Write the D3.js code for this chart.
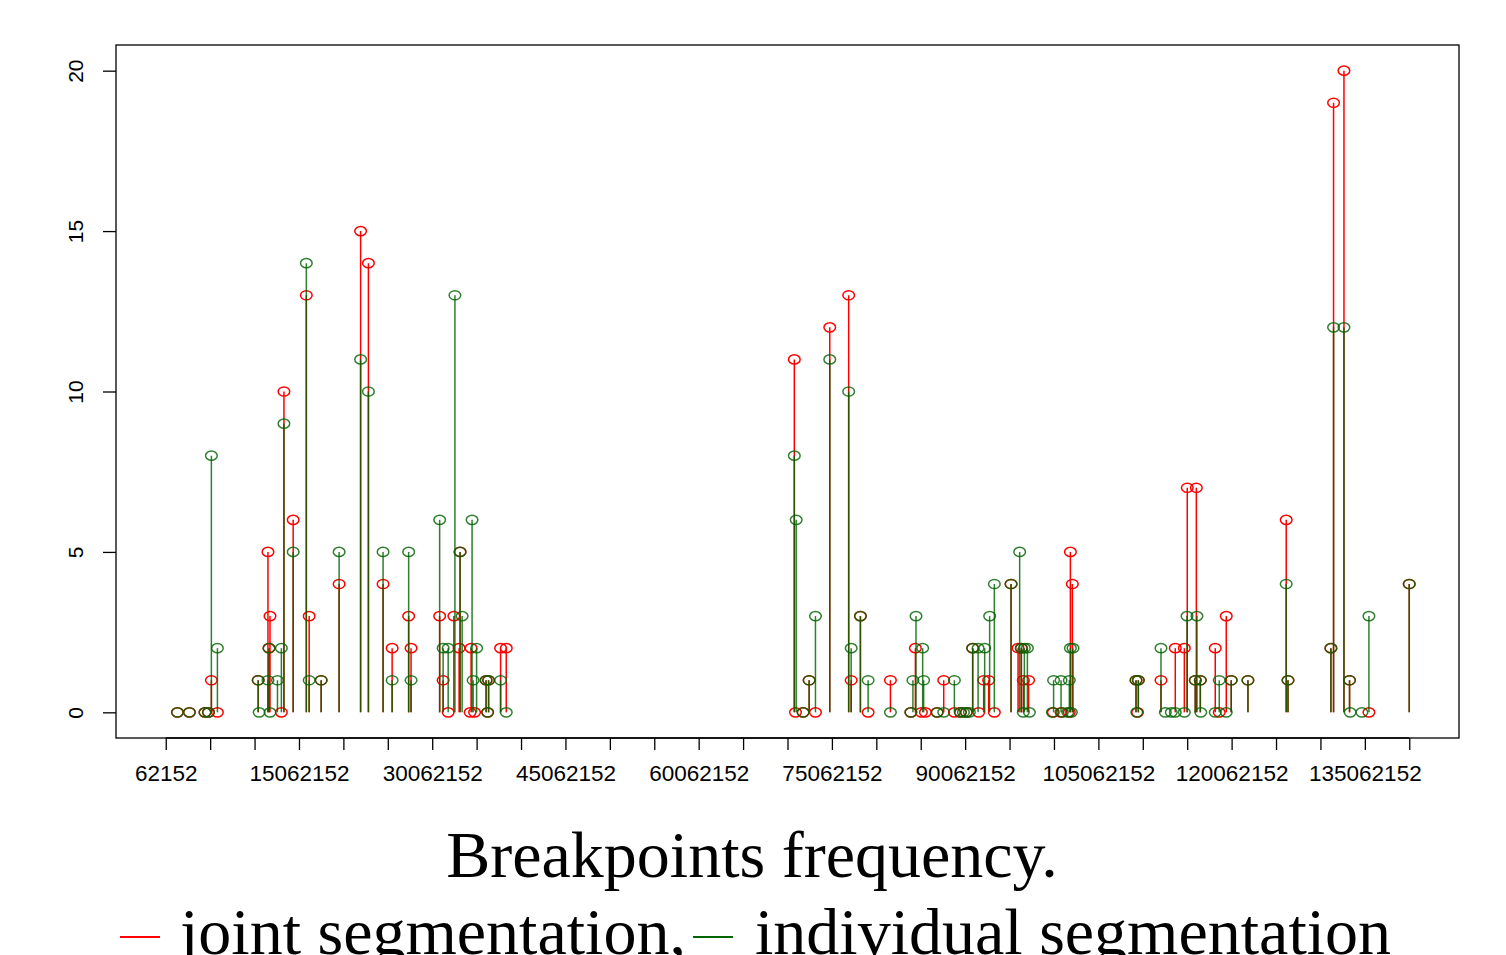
<!DOCTYPE html>
<html lang="en">
<head>
    <script src="https://d3js.org/d3.v7.min.js"></script>
    <style>
        body { margin: 0; background: #fff; }
    </style>
</head>
<body>
    <svg width="1506" height="955"></svg>
    <script>
        // breakpoint positions (Mb) and frequencies
        const jointPos = [1.38, 2.73, 4.48, 4.87, 5.20, 5.88, 10.47, 11.57, 11.69, 11.80, 13.08, 13.37, 14.41, 15.89, 16.21, 17.56, 19.58, 22.00, 22.88, 24.53, 25.55, 27.41, 27.68, 30.90, 31.29, 31.86, 32.50, 33.09, 33.20, 34.33, 34.44, 34.83, 36.13, 36.30, 36.41, 37.76, 38.40,
            70.83, 70.96, 71.82, 72.50, 73.21, 74.82, 76.95, 77.23, 78.27, 79.14, 81.65, 83.95, 84.46, 85.14, 85.59, 86.91, 87.65, 88.85, 89.53, 90.20, 90.91, 91.59, 92.15, 92.71, 93.35, 95.23, 96.02, 96.39, 96.61, 97.21, 99.99, 100.86, 101.79, 101.91, 102.13,
            109.30, 109.47, 109.56, 112.11, 113.72, 114.74, 115.07, 115.97, 116.09, 116.54, 118.22, 118.67, 119.46, 120.02, 121.90, 126.21, 126.41, 131.24, 131.54, 132.71, 133.34, 135.52, 140.06];
        const jointFreq = [0, 0, 0, 0, 1, 0, 1, 5, 2, 3, 0, 10, 6, 13, 3, 1, 4, 15, 14, 4, 2, 3, 2, 3, 1, 0, 3, 2, 5, 0, 2, 0, 1, 0, 1, 2, 2,
            11, 0, 0, 1, 0, 12, 13, 1, 3, 0, 1, 0, 2, 0, 0, 0, 1, 0, 0, 0, 2, 0, 1, 1, 0, 4, 2, 2, 1, 1, 0, 0, 0, 5, 4,
            1, 0, 1, 1, 2, 2, 7, 1, 7, 1, 2, 0, 3, 1, 1, 6, 1, 2, 19, 20, 1, 0, 4];

        const indivPos = [1.38, 2.73, 4.48, 4.87, 5.20, 5.88, 10.47, 10.58, 11.57, 11.69, 11.80, 12.64, 13.08, 13.37, 14.41, 15.89, 16.21, 17.56, 19.58, 22.00, 22.88, 24.53, 25.55, 27.41, 27.68, 30.90, 31.29, 31.86, 32.62, 33.20, 33.43, 34.55, 34.67, 35.06, 36.13, 36.30, 36.41, 37.76, 38.40,
            70.83, 71.04, 71.82, 72.50, 73.21, 74.82, 76.95, 77.23, 78.27, 79.14, 81.65, 83.95, 84.18, 84.53, 85.28, 85.39, 86.91, 87.65, 88.85, 89.53, 89.87, 90.20, 90.54, 90.91, 91.52, 92.26, 92.82, 93.35, 95.23, 96.20, 96.39, 96.73, 97.07, 96.61, 97.30,
            99.88, 100.02, 100.86, 101.00, 101.62, 101.79, 101.91, 102.02, 102.21, 109.30, 109.39, 109.56, 112.11, 112.60, 113.27, 113.72, 114.74, 115.04, 115.97, 116.16, 116.54, 116.59, 118.22, 118.67, 119.46, 120.02, 121.90,
            126.21, 126.41, 131.24, 131.54, 132.71, 133.34, 133.41, 134.73, 135.52, 140.06];
        const indivFreq = [0, 0, 0, 0, 8, 2, 1, 0, 1, 2, 0, 1, 2, 9, 5, 14, 1, 1, 5, 11, 10, 5, 1, 5, 1, 6, 2, 2, 13, 5, 3, 6, 1, 2, 1, 0, 1, 1, 0,
            8, 6, 0, 1, 3, 11, 10, 2, 3, 1, 0, 0, 1, 3, 2, 1, 0, 0, 1, 0, 0, 0, 0, 2, 2, 2, 3, 4, 4, 5, 2, 2, 2, 0, 0,
            0, 1, 1, 0, 0, 1, 2, 0, 2, 1, 0, 1, 2, 0, 0, 0, 0, 3, 1, 3, 1, 0, 0, 1, 0, 1, 1,
            4, 1, 2, 12, 12, 1, 0, 0, 3, 4];

        const xStart = 62152, xEnd = 140062152, xStep = 5000000;
        const yTicks = [0, 5, 10, 15, 20];
        const titleText = "Breakpoints frequency.";
        const legendLabels = ["joint segmentation,", "individual segmentation"];

        const joint = jointPos.map((p, i) => ({x: p * 1e6, y: jointFreq[i]}));
        const indiv = indivPos.map((p, i) => ({x: p * 1e6, y: indivFreq[i]}));

        const plotLeft = 116, plotRight = 1459, plotTop = 45, plotBottom = 738;
        const xPad = (xEnd - xStart) * 0.04;
        const x = d3.scaleLinear().domain([xStart - xPad, xEnd + xPad]).range([plotLeft, plotRight]);
        const y = d3.scaleLinear().domain([-0.8, 20.8]).range([plotBottom, plotTop]);

        const svg = d3.select("svg");

        // series: joint in red first, individual in dark green over it
        function drawSeries(data, color, opacity) {
            const g = svg.append("g");
            g.selectAll("line")
                .data(data)
                .join("line")
                .attr("x1", d => x(d.x)).attr("x2", d => x(d.x))
                .attr("y1", y(0)).attr("y2", d => y(d.y))
                .attr("stroke", color)
                .attr("stroke-opacity", opacity)
                .attr("stroke-width", 1.5);
            g.selectAll("ellipse")
                .data(data)
                .join("ellipse")
                .attr("cx", d => x(d.x))
                .attr("cy", d => y(d.y))
                .attr("rx", 5.8).attr("ry", 4.6)
                .attr("fill", "none")
                .attr("stroke", color)
                .attr("stroke-opacity", opacity)
                .attr("stroke-width", 1.5);
        }
        drawSeries(joint, "#ff0000", 1);
        drawSeries(indiv, "#006400", 0.82);

        // frame
        svg.append("rect")
            .attr("x", plotLeft).attr("y", plotTop)
            .attr("width", plotRight - plotLeft).attr("height", plotBottom - plotTop)
            .attr("fill", "none").attr("stroke", "#000").attr("stroke-width", 1.3);

        // x axis, R style: every tick, labels only where they fit
        const xTicks = d3.range(xStart, xEnd + 1, xStep);
        const xAxis = svg.append("g")
            .attr("transform", `translate(0,${plotBottom})`)
            .call(d3.axisBottom(x).tickValues(xTicks).tickSize(12).tickSizeOuter(0)
                .tickFormat((d, i) => i % 3 === 0 ? d3.format("d")(d) : ""));
        xAxis.select(".domain").attr("d", `M${x(xStart)},0H${x(xEnd)}`).attr("stroke-width", 1.3);
        xAxis.selectAll(".tick line").attr("stroke-width", 1.3);
        xAxis.selectAll(".tick text")
            .attr("y", 0).attr("dy", 0)
            .attr("transform", "translate(0,43)")
            .style("font-family", "Liberation Sans, Arial, sans-serif")
            .style("font-size", "22.5px")
            .attr("fill", "#000");

        // y axis with rotated labels
        const yAxis = svg.append("g")
            .attr("transform", `translate(${plotLeft},0)`)
            .call(d3.axisLeft(y).tickValues(yTicks).tickSize(13).tickSizeOuter(0));
        yAxis.select(".domain").remove();
        yAxis.selectAll(".tick line").attr("stroke-width", 1.3);
        yAxis.selectAll(".tick text")
            .attr("x", 0).attr("dy", 0)
            .attr("text-anchor", "middle")
            .attr("transform", "translate(-33,0) rotate(-90)")
            .style("font-family", "Liberation Sans, Arial, sans-serif")
            .style("font-size", "21px")
            .attr("fill", "#000");

        // title and legend line (the legend runs off the bottom edge, as in the source)
        const serif = "Liberation Serif, Times New Roman, serif";
        svg.append("text")
            .attr("x", 752).attr("y", 877)
            .attr("text-anchor", "middle")
            .style("font-family", serif).style("font-size", "66px")
            .text(titleText);

        svg.append("line").attr("x1", 120).attr("x2", 160).attr("y1", 937).attr("y2", 937)
            .attr("stroke", "#ff0000").attr("stroke-width", 2);
        svg.append("text").attr("x", 180).attr("y", 954)
            .style("font-family", serif).style("font-size", "66px")
            .text(legendLabels[0]);
        svg.append("line").attr("x1", 693).attr("x2", 733).attr("y1", 937).attr("y2", 937)
            .attr("stroke", "#006400").attr("stroke-width", 2);
        svg.append("text").attr("x", 755).attr("y", 954)
            .style("font-family", serif).style("font-size", "66px")
            .text(legendLabels[1]);
    </script>
</body>
</html>
